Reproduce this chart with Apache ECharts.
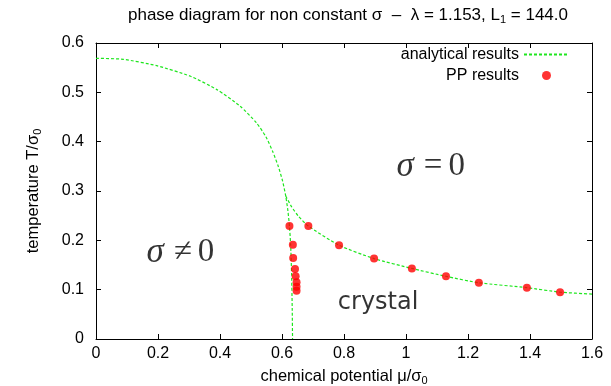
<!DOCTYPE html>
<html><head><meta charset="utf-8">
<script src="https://cdn.jsdelivr.net/npm/echarts@6/dist/echarts.min.js"></script>
<style>html,body{margin:0;padding:0;background:#fff}#c{width:611px;height:386px}</style>
</head><body><div id="c"></div>
<script>
// analytical curve: upper branch continuing into near-vertical line
const analyticalA = [[0,0.569],[0.088,0.567],[0.196,0.554],[0.303,0.533],[0.389,0.506],[0.465,0.472],[0.518,0.438],[0.548,0.410],[0.570,0.380],[0.588,0.350],[0.602,0.320],[0.612,0.290],[0.619,0.260],[0.624,0.229],[0.628,0.190],[0.631,0.130],[0.633,0.060],[0.634,0]];
// analytical curve: right branch
const analyticalB = [[0.612,0.290],[0.631,0.268],[0.653,0.249],[0.685,0.229],[0.784,0.190],[0.897,0.163],[1.019,0.143],[1.129,0.127],[1.235,0.114],[1.390,0.104],[1.497,0.095],[1.600,0.091]];
// PP results
const ppResults = [[0.624,0.229],[0.685,0.229],[0.635,0.191],[0.636,0.164],[0.642,0.142],[0.644,0.127],[0.647,0.115],[0.647,0.106],[0.647,0.098],[0.784,0.190],[0.897,0.163],[1.019,0.143],[1.129,0.127],[1.235,0.114],[1.390,0.104],[1.497,0.095]];
const xTicks = {min:0, max:1.6, interval:0.2};
const yTicks = {min:0, max:0.6, interval:0.1};
const regionLabels = [
  {text:'{i|σ}{e|=}{m|0}', at:[1.080,0.349]},
  {text:'{i|σ}{e|≠}{m|0}', at:[0.272,0.175]},
  {text:'{c|crystal}', at:[0.91,0.073]}
];

const FONT = 'Liberation Sans, Arial, sans-serif';
const green = '#1ee61e';
const chart = echarts.init(document.getElementById('c'));
const axisCommon = {
  axisLine:{show:true, onZero:false, lineStyle:{color:'#000', width:1}},
  axisTick:{show:true, inside:true, length:5, lineStyle:{color:'#000'}},
  splitLine:{show:false}
};
const subRich = {s:{fontFamily:FONT, fontSize:11, padding:[8,0,0,0], color:'#000'}};
chart.setOption({
  animation:false,
  backgroundColor:'#fff',
  title:{
    text:'phase diagram for non constant σ  –  λ = 1.153, L{s|1} = 144.0',
    left:343, textAlign:'center', top:1,
    textStyle:{fontFamily:FONT, fontSize:17, fontWeight:'normal', color:'#000', rich:subRich}
  },
  grid:{left:96, right:19, top:43, bottom:47, outerBoundsMode:'none', containLabel:false},
  legend:{
    orient:'vertical', right:41, top:46, align:'right', itemGap:4, padding:0,
    itemWidth:45, itemHeight:9,
    textStyle:{fontFamily:FONT, fontSize:16, color:'#000', lineHeight:17},
    data:[{name:'analytical results', itemStyle:{opacity:0}}, 'PP results']
  },
  xAxis:[
    Object.assign({type:'value', min:xTicks.min, max:xTicks.max, interval:xTicks.interval, position:'bottom',
      name:'chemical potential μ/σ{s|0}', nameLocation:'middle', nameGap:28,
      nameTextStyle:{fontFamily:FONT, fontSize:16.5, color:'#000', rich:subRich},
      axisLabel:{fontFamily:FONT, fontSize:16, color:'#000', margin:7}}, axisCommon),
    Object.assign({type:'value', min:xTicks.min, max:xTicks.max, interval:xTicks.interval, position:'top',
      axisLabel:{show:false}}, axisCommon)
  ],
  yAxis:[
    Object.assign({type:'value', min:yTicks.min, max:yTicks.max, interval:yTicks.interval, position:'left',
      name:'temperature T/σ{s|0}', nameLocation:'middle', nameGap:53, nameRotate:90,
      nameTextStyle:{fontFamily:FONT, fontSize:16.5, color:'#000', rich:subRich},
      axisLabel:{fontFamily:FONT, fontSize:16, color:'#000', margin:12}}, axisCommon),
    Object.assign({type:'value', min:yTicks.min, max:yTicks.max, interval:yTicks.interval, position:'right',
      axisLabel:{show:false}}, axisCommon)
  ],
  series:[
    {name:'analytical results', type:'line', data:analyticalA, smooth:0.2, symbol:'none',
      lineStyle:{color:green, width:1.2, type:[3,2]}, itemStyle:{color:green}, z:2},
    {name:'analytical results', type:'line', data:analyticalB, smooth:0.2, symbol:'none',
      lineStyle:{color:green, width:1.2, type:[3,2]}, itemStyle:{color:green}, z:2},
    {name:'PP results', type:'scatter', data:ppResults, symbol:'circle', symbolSize:8,
      itemStyle:{color:'#ff0000'}, z:3},
    {name:'labels', type:'scatter', symbolSize:0, silent:true, z:5,
      data:regionLabels.map(r => ({value:r.at, label:{formatter:r.text}})),
      label:{show:true, position:'inside', color:'#000',
        rich:{
          i:{fontFamily:'Liberation Serif', fontStyle:'italic', fontSize:35, color:'#000'},
          e:{fontFamily:'Liberation Serif', fontSize:33, color:'#000', padding:[0,6,0,10]},
          m:{fontFamily:'Liberation Serif', fontSize:33, color:'#000'},
          c:{fontFamily:'DejaVu Sans', fontSize:24, color:'#000'}
        }}}
  ]
});
</script></body></html>
